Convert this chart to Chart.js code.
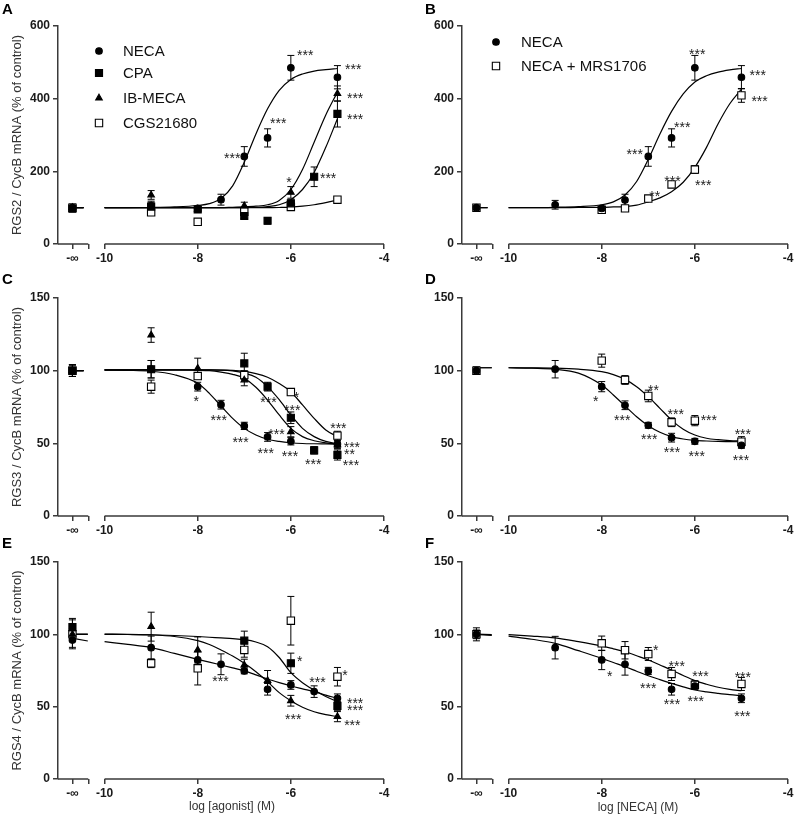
<!DOCTYPE html>
<html>
<head>
<meta charset="utf-8">
<script src="https://cdn.jsdelivr.net/npm/chart.js@4.4.0/dist/chart.umd.min.js"></script>
<style>
  body { margin: 0; background: #fff; width: 796px; height: 822px; position: relative; overflow: hidden; }
  canvas { position: absolute; }
</style>
</head>
<body>
<canvas id="pA" width="400" height="268" style="left:0;top:0"></canvas>
<canvas id="pB" width="396" height="268" style="left:400px;top:0"></canvas>
<canvas id="pC" width="400" height="268" style="left:0;top:268px"></canvas>
<canvas id="pD" width="396" height="268" style="left:400px;top:268px"></canvas>
<canvas id="pE" width="400" height="292" style="left:0;top:530px"></canvas>
<canvas id="pF" width="396" height="292" style="left:400px;top:530px"></canvas>
<script>
// ---- shared axis values ----
const NEG_INF = -10.69;
const X_TICK_VALUES = [NEG_INF, -10.35, -10, -8, -6, -4];
const X_TICK_LABELS = ['-\u221E', '', '-10', '-8', '-6', '-4'];
const AXIS_BREAK = [-10.35, -10];
const CURVE_X = [-10, -9.5, -9, -8.5, -8, -7.75, -7.5, -7.25, -7, -6.75, -6.5, -6.25, -6, -5.75, -5.5, -5.25, -5];
const STUB_SHORT = [-10.72, -10.45];
const STUB_LONG = [-10.72, -10.36];

// ---- A: RGS2, agonists ----
const aNecaX = [NEG_INF, -9, -8, -7.5, -7, -6.5, -6, -5];
const aNecaY = [100, 105, 98, 122, 241, 292, 485, 459];
const aNecaErr = [10, 13, 6, 15, 27, 25, 34, 32];
const aCpaX = [NEG_INF, -9, -8, -7, -6.5, -6, -5.5, -5];
const aCpaY = [97, 103, 95, 77, 64, 112, 185, 358];
const aCpaErr = [8, 12, 5, 7, 9, 9, 27, 36];
const aIbX = [NEG_INF, -9, -8, -7, -6, -5];
const aIbY = [100, 135, 96, 105, 142, 414];
const aIbErr = [6, 12, 6, 10, 16, 21];
const aCgsX = [NEG_INF, -9, -8, -7, -6, -5];
const aCgsY = [100, 87, 61, 89, 102, 122];
const aCgsErr = [6, 8, 4, 6, 4, 3];
const aNecaFit = [100, 100, 100.5, 102, 106, 111, 125, 160, 225, 303, 372, 423, 453, 468, 476, 480, 483];
const aCpaFit = [100, 100, 100, 100, 100, 100, 100, 100, 100.5, 101, 103, 108, 122, 150, 197, 266, 345];
const aIbFit = [100, 100, 100, 100, 100, 100, 100, 101, 102, 104, 108, 120, 150, 205, 280, 355, 418];
const aCgsFit = [100, 100, 100, 100, 100, 100, 100, 100, 100, 100, 100, 100.5, 101.5, 104, 108, 114, 121];
const aStars = [[-5.69, 528, '***'], [-4.66, 489, '***'], [-4.62, 411, '***'], [-4.62, 352, '***'],
  [-6.27, 340, '***'], [-7.26, 246, '***'], [-6.04, 178, '*'], [-5.2, 191, '***']];

// ---- B: RGS2, NECA +/- MRS1706 ----
const bNecaX = [NEG_INF, -9, -8, -7.5, -7, -6.5, -6, -5];
const bNecaY = [100, 108, 98, 121, 241, 292, 485, 459];
const bNecaErr = [4, 12, 5, 16, 27, 25, 34, 32];
const bMrsX = [NEG_INF, -8, -7.5, -7, -6.5, -6, -5];
const bMrsY = [100, 94, 98, 125, 164, 205, 409];
const bMrsErr = [3, 4, 4, 5, 6, 11, 19];
const bNecaFit = [100, 100, 101, 103, 108, 116, 135, 172, 233, 303, 365, 413, 446, 463, 473, 479, 483];
const bMrsFit = [100, 100, 100, 100.5, 101, 102, 103, 107, 116, 127, 144, 170, 211, 266, 331, 386, 426];
const bStars = [[-5.95, 531, '***'], [-4.65, 474, '***'], [-4.61, 403, '***'], [-6.27, 329, '***'],
  [-7.29, 257, '***'], [-6.48, 183, '***'], [-6.86, 139, '**'], [-5.82, 171, '***']];

// ---- C: RGS3, agonists ----
const cNecaX = [NEG_INF, -9, -8, -7.5, -7, -6.5, -6, -5];
const cNecaY = [100, 101, 89, 76.6, 62, 54.4, 51.4, 49.5];
const cNecaErr = [4, 6, 3, 3, 2.5, 3, 2.5, 2.5];
const cCpaX = [NEG_INF, -9, -7, -6.5, -6, -5.5, -5];
const cCpaY = [100, 101, 105, 89, 67.6, 45.2, 42];
const cCpaErr = [4, 6, 7, 3, 4, 2.5, 3.5];
const cIbX = [NEG_INF, -9, -8, -7, -6, -5];
const cIbY = [100, 124.5, 101.6, 93.6, 58, 49];
const cIbErr = [4, 5, 7, 4, 3.5, 2.5];
const cCgsX = [NEG_INF, -9, -8, -7, -6, -5];
const cCgsY = [100, 89, 96.3, 97, 85.3, 55.3];
const cCgsErr = [4, 4.5, 2, 3, 2, 3];
const cNecaFit = [100.4, 100.2, 99.6, 97.2, 91.3, 84.4, 75.7, 67.2, 60.3, 55.7, 52.8, 51.3, 50.4, 49.9, 49.7, 49.6, 49.5];
const cCpaFit = [100.5, 100.5, 100.5, 100.5, 100.5, 100.5, 100.4, 99.8, 98.3, 95.5, 89, 80, 69.5, 60.3, 54.6, 51.3, 49.8];
const cIbFit = [100.5, 100.5, 100.5, 100.5, 100.3, 100, 99, 97.5, 94.7, 88.6, 79.8, 69.5, 60.3, 54.6, 51.8, 50.3, 49.5];
const cCgsFit = [100.5, 100.5, 100.5, 100.5, 100.5, 100.5, 100.4, 100.2, 99.5, 98, 95.5, 91.2, 85.5, 76.4, 67.2, 59.2, 54.6];
const cStars = [[-5.88, 84, '*'], [-6.48, 80.3, '***'], [-5.97, 74.8, '***'], [-8.03, 81.4, '*'],
  [-7.55, 67.9, '***'], [-7.08, 53, '***'], [-6.31, 58.7, '***'], [-6.54, 45.2, '***'], [-6.02, 43.6, '***'],
  [-5.52, 38, '***'], [-4.98, 62.4, '***'], [-4.69, 49.8, '***'], [-4.74, 44.9, '**'], [-4.71, 36.9, '***']];

// ---- D: RGS3, NECA +/- MRS1706 ----
const dNecaX = [NEG_INF, -9, -8, -7.5, -7, -6.5, -6, -5];
const dNecaY = [100, 101, 89, 76.2, 62.4, 53.9, 51.4, 48.6];
const dNecaErr = [2.5, 6, 3.5, 3, 2, 3, 2, 2];
const dMrsX = [NEG_INF, -8, -7.5, -7, -6.5, -6, -5];
const dMrsY = [100, 106.9, 93.6, 82.6, 64.5, 65.6, 51.1];
const dMrsErr = [2.5, 4.5, 3, 4, 3, 3.5, 3.5];
const dNecaFit = [102, 101.7, 101, 98.3, 90.1, 83.3, 75.7, 68.3, 62.1, 57.6, 54.6, 53, 52.1, 51.6, 51.3, 51.2, 51.1];
const dMrsFit = [102, 101.9, 101.7, 101, 99.3, 97.3, 94, 89, 82.1, 74.1, 66, 59.7, 55.7, 53.5, 52.5, 51.9, 51.6];
const dStars = [[-8.13, 81.4, '*'], [-7.56, 68.3, '***'], [-6.89, 89, '**'], [-6.98, 55.3, '***'],
  [-6.41, 72.2, '***'], [-5.70, 68.3, '***'], [-6.49, 45.9, '***'], [-5.96, 43.6, '***'],
  [-4.97, 58.7, '***'], [-5.01, 40.4, '***']];

// ---- E: RGS4, agonists ----
const eNecaX = [NEG_INF, -9, -8, -7.5, -7, -6.5, -6, -5.5, -5];
const eNecaY = [96, 90.8, 82.3, 79.3, 74.7, 62, 65, 60.4, 55.8];
const eNecaErr = [5, 8, 6, 7.2, 2, 4, 3, 4, 3];
const eCpaX = [NEG_INF, -7, -6, -5];
const eCpaY = [105, 95.6, 80, 50.5];
const eCpaErr = [6, 6.6, 7, 3];
const eIbX = [NEG_INF, -9, -8, -7, -6.5, -6, -5];
const eIbY = [100, 105.3, 89.2, 78.8, 68, 54.1, 43.1];
const eIbErr = [10, 10, 9, 4, 7, 3.7, 3.5];
const eCgsX = [NEG_INF, -9, -8, -7, -6, -5];
const eCgsY = [100, 80, 76.5, 89.2, 109.4, 70.7];
const eCgsErr = [4, 3, 11.5, 5, 16.8, 6.4];
const eNecaFit = [94.9, 93, 90.8, 86.8, 82.7, 80.8, 78.8, 76.8, 74.7, 72, 69.1, 66.6, 64.3, 62.3, 60.4, 58, 55.8];
const eCpaFit = [100.2, 100, 99.7, 99.2, 98.5, 98, 97.5, 97, 96.3, 94.7, 91.5, 84, 73.5, 66.6, 61.5, 57, 53.5];
const eIbFit = [100, 99.9, 99.6, 98.5, 95.6, 93, 89.2, 85, 80, 74.2, 67.3, 59.7, 54.1, 49.6, 46.5, 44.5, 43.1];
const eStars = [[-7.51, 69.6, '***'], [-5.81, 83.4, '*'], [-5.43, 68.9, '***'], [-4.84, 74.2, '*'],
  [-5.95, 43.5, '***'], [-4.62, 54.6, '***'], [-4.62, 50, '***'], [-4.68, 39.6, '***']];

// ---- F: RGS4, NECA +/- MRS1706 ----
const fNecaX = [NEG_INF, -9, -8, -7.5, -7, -6.5, -6, -5];
const fNecaY = [100, 90.8, 82.3, 79.3, 74.7, 62, 64.3, 55.8];
const fNecaErr = [3, 7.8, 6.7, 7.5, 2.5, 4, 2, 3];
const fMrsX = [NEG_INF, -8, -7.5, -7, -6.5, -6, -5];
const fMrsY = [100, 93.8, 89, 86.4, 72.6, 65, 65.7];
const fMrsErr = [4.5, 5, 6, 4.5, 4.5, 3, 4.5];
const fNecaFit = [98.8, 96.6, 93.8, 88.7, 83.4, 80.5, 77.7, 74.5, 71.4, 68.7, 66.1, 63.7, 61.5, 60.2, 59.2, 58.3, 57.6];
const fMrsFit = [99.8, 98.8, 97.5, 94.9, 91.9, 90, 88, 85.2, 82.3, 78.8, 75.3, 71.5, 68, 65.5, 63.4, 62, 61];
const fStars = [[-6.84, 91.5, '*'], [-7.83, 73.5, '*'], [-6.39, 80.4, '***'], [-7.0, 65, '***'],
  [-5.88, 73.5, '***'], [-6.49, 54.1, '***'], [-5.98, 55.8, '***'], [-4.97, 72.6, '***'], [-4.98, 45.8, '***']];

// ---- drawing ----
const FONT = '"Liberation Sans", Arial, Helvetica, sans-serif';
const AXIS = '#3a3a3a';
Chart.defaults.font.family = FONT;

const MARK = {
  circle: { style: 'circle', r: 3.3, fill: '#000' },
  square: { style: 'rect', r: 5, fill: '#000' },
  triangle: { style: 'triangle', r: 3.8, fill: '#000' },
  open: { style: 'rect', r: 5.2, fill: '#fff' }
};

function drawMarker(ctx, m, x, y) {
  ctx.beginPath();
  if (m.style === 'circle') {
    ctx.arc(x, y, m.r, 0, Math.PI * 2);
  } else if (m.style === 'rect') {
    const s = m.r * Math.SQRT1_2;
    ctx.rect(x - s, y - s, 2 * s, 2 * s);
  } else {
    for (let k = 0; k < 3; k++) {
      const a = k * 2 * Math.PI / 3;
      const px = x + Math.sin(a) * m.r, py = y - Math.cos(a) * m.r;
      k === 0 ? ctx.moveTo(px, py) : ctx.lineTo(px, py);
    }
    ctx.closePath();
  }
  ctx.fillStyle = m.fill;
  ctx.fill();
  ctx.lineWidth = 1.1;
  ctx.strokeStyle = '#000';
  ctx.stroke();
}

const panelInfo = {};

const decoPlugin = {
  id: 'deco',
  beforeDatasetsDraw(chart) {
    const ctx = chart.ctx, xs = chart.scales.x, ys = chart.scales.y;
    ctx.save();
    ctx.strokeStyle = '#000';
    ctx.lineWidth = 1;
    chart.data.datasets.forEach(ds => {
      if (!ds.errors) return;
      ds.data.forEach((p, j) => {
        const e = ds.errors[j];
        const px = xs.getPixelForValue(p.x);
        const y1 = ys.getPixelForValue(p.y + e), y2 = ys.getPixelForValue(p.y - e);
        ctx.beginPath();
        ctx.moveTo(px, y1); ctx.lineTo(px, y2);
        ctx.moveTo(px - 3.5, y1); ctx.lineTo(px + 3.5, y1);
        ctx.moveTo(px - 3.5, y2); ctx.lineTo(px + 3.5, y2);
        ctx.stroke();
      });
    });
    ctx.restore();
  },
  afterDraw(chart) {
    const info = panelInfo[chart.canvas.id];
    const ctx = chart.ctx, xs = chart.scales.x, ys = chart.scales.y, area = chart.chartArea;
    ctx.save();
    // broken x axis
    ctx.strokeStyle = AXIS;
    ctx.lineWidth = 1.5;
    ctx.beginPath();
    ctx.moveTo(area.left, area.bottom);
    ctx.lineTo(xs.getPixelForValue(AXIS_BREAK[0]), area.bottom);
    ctx.moveTo(xs.getPixelForValue(AXIS_BREAK[1]), area.bottom);
    ctx.lineTo(area.right, area.bottom);
    ctx.stroke();

    // significance stars
    ctx.fillStyle = '#222';
    ctx.font = '14px ' + FONT;
    ctx.textAlign = 'center';
    ctx.textBaseline = 'alphabetic';
    info.stars.forEach(s => {
      ctx.fillText(s[2], xs.getPixelForValue(s[0]), ys.getPixelForValue(s[1]) + 8);
    });

    // legend
    if (info.legend) {
      const lg = info.legend;
      ctx.font = '15px ' + FONT;
      ctx.textAlign = 'left';
      ctx.textBaseline = 'middle';
      lg.items.forEach((it, k) => {
        drawMarker(ctx, it.mark, lg.x, lg.ys[k]);
        ctx.fillStyle = '#111';
        ctx.fillText(it.label, lg.textX, lg.ys[k] + 1);
      });
    }

    // panel letter
    ctx.fillStyle = '#000';
    ctx.font = 'bold 15px ' + FONT;
    ctx.textAlign = 'left';
    ctx.textBaseline = 'alphabetic';
    ctx.fillText(info.letter, info.letterX, info.letterY);

    // axis titles
    ctx.fillStyle = '#333';
    ctx.font = '13px ' + FONT;
    ctx.textAlign = 'center';
    ctx.textBaseline = 'middle';
    if (info.yTitle) {
      ctx.save();
      ctx.translate(17, (area.top + area.bottom) / 2);
      ctx.rotate(-Math.PI / 2);
      ctx.fillText(info.yTitle, 0, 0);
      ctx.restore();
    }
    if (info.xTitle) {
      ctx.font = '12px ' + FONT;
      ctx.fillText(info.xTitle, info.xTitleX, info.xTitleY);
    }
    ctx.restore();
  }
};

function buildPanel(id, p) {
  panelInfo[id] = p;
  const datasets = [];
  p.series.forEach(s => {
    datasets.push({
      label: s.label,
      data: s.x.map((x, i) => ({ x: x, y: s.y[i] })),
      errors: s.err,
      showLine: false,
      pointStyle: s.mark.style,
      pointRadius: s.mark.r,
      backgroundColor: s.mark.fill,
      borderColor: '#000',
      borderWidth: 1.1,
      order: s.mark === MARK.open ? 0.5 : 0
    });
  });
  p.curves.forEach(c => {
    const pts = p.stubX.map((x, i) => ({ x: x, y: c.stub[i] }));
    pts.push({ x: -10.2, y: null });
    CURVE_X.forEach((x, i) => pts.push({ x: x, y: c.y[i] }));
    datasets.push({
      label: '',
      data: pts,
      showLine: true,
      spanGaps: false,
      pointRadius: 0,
      borderColor: '#000',
      borderWidth: 1.2,
      cubicInterpolationMode: 'monotone',
      fill: false,
      order: 1
    });
  });

  new Chart(document.getElementById(id), {
    type: 'scatter',
    data: { datasets },
    options: {
      responsive: false,
      animation: false,
      events: [],
      layout: { padding: { left: 0, right: p.padRight, top: p.padTop, bottom: 0 } },
      plugins: { legend: { display: false }, tooltip: { enabled: false } },
      scales: {
        x: {
          type: 'linear', min: -11, max: -4,
          afterBuildTicks: s => { s.ticks = X_TICK_VALUES.map(v => ({ value: v })); },
          afterFit: s => { s.height = p.xAxisHeight; },
          ticks: {
            autoSkip: false, maxRotation: 0, padding: 2, color: '#1a1a1a',
            font: { size: 12, weight: 'bold' },
            callback: (v, i) => X_TICK_LABELS[i]
          },
          grid: { display: true, drawOnChartArea: false, tickLength: 5, color: AXIS, lineWidth: 1.5 },
          border: { display: false }
        },
        y: {
          type: 'linear', min: 0, max: p.yMax,
          afterFit: s => { s.width = p.yAxisWidth; },
          ticks: { stepSize: p.yStep, padding: 3, color: '#1a1a1a', font: { size: 12, weight: 'bold' } },
          grid: { display: true, drawOnChartArea: false, tickLength: 5, color: AXIS, lineWidth: 1.5 },
          border: { display: true, color: AXIS, width: 1.5 }
        }
      }
    },
    plugins: [decoPlugin]
  });
}

const LEFT = { padRight: 16, yAxisWidth: 58, letterX: 2 };
const RIGHT = { padRight: 8, yAxisWidth: 62, letterX: 25 };

buildPanel('pA', Object.assign({}, LEFT, {
  letter: 'A', letterY: 14, padTop: 26, xAxisHeight: 24, yMax: 600, yStep: 200,
  yTitle: 'RGS2 / CycB mRNA (% of control)', stubX: STUB_SHORT, stars: aStars,
  series: [
    { label: 'NECA', x: aNecaX, y: aNecaY, err: aNecaErr, mark: MARK.circle },
    { label: 'CPA', x: aCpaX, y: aCpaY, err: aCpaErr, mark: MARK.square },
    { label: 'IB-MECA', x: aIbX, y: aIbY, err: aIbErr, mark: MARK.triangle },
    { label: 'CGS21680', x: aCgsX, y: aCgsY, err: aCgsErr, mark: MARK.open }
  ],
  curves: [
    { y: aNecaFit, stub: [100, 100] }, { y: aCpaFit, stub: [100, 100] },
    { y: aIbFit, stub: [100, 100] }, { y: aCgsFit, stub: [100, 100] }
  ],
  legend: { x: 99, textX: 123, ys: [51, 73, 98, 123], items: [
    { label: 'NECA', mark: MARK.circle }, { label: 'CPA', mark: MARK.square },
    { label: 'IB-MECA', mark: MARK.triangle }, { label: 'CGS21680', mark: MARK.open }
  ] }
}));

buildPanel('pB', Object.assign({}, RIGHT, {
  letter: 'B', letterY: 14, padTop: 26, xAxisHeight: 24, yMax: 600, yStep: 200,
  stubX: STUB_SHORT, stars: bStars,
  series: [
    { label: 'NECA', x: bNecaX, y: bNecaY, err: bNecaErr, mark: MARK.circle },
    { label: 'NECA + MRS1706', x: bMrsX, y: bMrsY, err: bMrsErr, mark: MARK.open }
  ],
  curves: [{ y: bNecaFit, stub: [100, 100] }, { y: bMrsFit, stub: [100, 100] }],
  legend: { x: 96, textX: 121, ys: [42, 66], items: [
    { label: 'NECA', mark: MARK.circle }, { label: 'NECA + MRS1706', mark: MARK.open }
  ] }
}));

buildPanel('pC', Object.assign({}, LEFT, {
  letter: 'C', letterY: 16, padTop: 30, xAxisHeight: 20, yMax: 150, yStep: 50,
  yTitle: 'RGS3 / CycB mRNA (% of control)', stubX: STUB_SHORT, stars: cStars,
  series: [
    { label: 'NECA', x: cNecaX, y: cNecaY, err: cNecaErr, mark: MARK.circle },
    { label: 'CPA', x: cCpaX, y: cCpaY, err: cCpaErr, mark: MARK.square },
    { label: 'IB-MECA', x: cIbX, y: cIbY, err: cIbErr, mark: MARK.triangle },
    { label: 'CGS21680', x: cCgsX, y: cCgsY, err: cCgsErr, mark: MARK.open }
  ],
  curves: [
    { y: cNecaFit, stub: [100, 100] }, { y: cCpaFit, stub: [100, 100] },
    { y: cIbFit, stub: [100, 100] }, { y: cCgsFit, stub: [100, 100] }
  ]
}));

buildPanel('pD', Object.assign({}, RIGHT, {
  letter: 'D', letterY: 16, padTop: 30, xAxisHeight: 20, yMax: 150, yStep: 50,
  stubX: STUB_LONG, stars: dStars,
  series: [
    { label: 'NECA', x: dNecaX, y: dNecaY, err: dNecaErr, mark: MARK.circle },
    { label: 'NECA + MRS1706', x: dMrsX, y: dMrsY, err: dMrsErr, mark: MARK.open }
  ],
  curves: [{ y: dNecaFit, stub: [102, 102] }, { y: dMrsFit, stub: [102, 102] }]
}));

buildPanel('pE', Object.assign({}, LEFT, {
  letter: 'E', letterY: 18, padTop: 32, xAxisHeight: 43, yMax: 150, yStep: 50,
  yTitle: 'RGS4 / CycB mRNA (% of control)', xTitle: 'log [agonist] (M)', xTitleX: 232, xTitleY: 277,
  stubX: STUB_LONG, stars: eStars,
  series: [
    { label: 'NECA', x: eNecaX, y: eNecaY, err: eNecaErr, mark: MARK.circle },
    { label: 'CPA', x: eCpaX, y: eCpaY, err: eCpaErr, mark: MARK.square },
    { label: 'IB-MECA', x: eIbX, y: eIbY, err: eIbErr, mark: MARK.triangle },
    { label: 'CGS21680', x: eCgsX, y: eCgsY, err: eCgsErr, mark: MARK.open }
  ],
  curves: [
    { y: eNecaFit, stub: [97.4, 95.4] }, { y: eCpaFit, stub: [100.2, 100.2] },
    { y: eIbFit, stub: [100, 100] }
  ]
}));

buildPanel('pF', Object.assign({}, RIGHT, {
  letter: 'F', letterY: 18, padTop: 32, xAxisHeight: 43, yMax: 150, yStep: 50,
  xTitle: 'log [NECA] (M)', xTitleX: 238, xTitleY: 278,
  stubX: STUB_LONG, stars: fStars,
  series: [
    { label: 'NECA', x: fNecaX, y: fNecaY, err: fNecaErr, mark: MARK.circle },
    { label: 'NECA + MRS1706', x: fMrsX, y: fMrsY, err: fMrsErr, mark: MARK.open }
  ],
  curves: [{ y: fNecaFit, stub: [100, 99.2] }, { y: fMrsFit, stub: [100.2, 99.8] }]
}));
</script>
</body>
</html>
